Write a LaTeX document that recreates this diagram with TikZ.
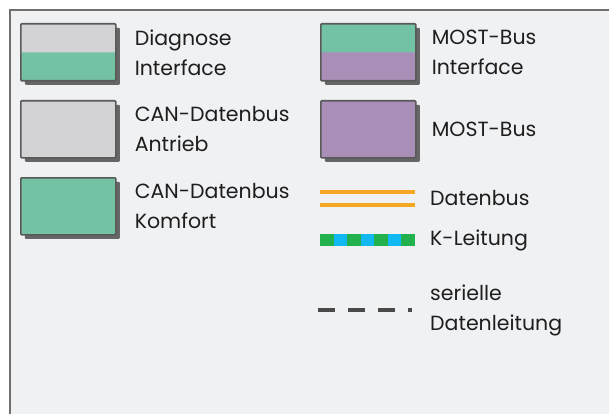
\documentclass[tikz,border=0pt]{standalone}
\usepackage{fontspec}
\setmainfont{Poppins}
\usepackage{xcolor}
\usetikzlibrary{positioning, shadows}

\definecolor{panelbg}{HTML}{F0F1F3}
\definecolor{framegrey}{HTML}{6F6F6F}
\definecolor{cangrey}{HTML}{D3D3D5}
\definecolor{cangreen}{HTML}{74C2A4}
\definecolor{mostlila}{HTML}{A98FB8}
\definecolor{busorange}{HTML}{F7A823}
\definecolor{kgreen}{HTML}{23B14D}
\definecolor{kcyan}{HTML}{12B8F0}
\definecolor{serialgrey}{HTML}{4A4A4A}
\definecolor{textgrey}{HTML}{1E1E1E}

\tikzset{
  legbox/.style={draw=black!65, line width=1.6pt, rounded corners=1pt,
    minimum width=95pt, minimum height=57pt, inner sep=0pt, anchor=north west,
    drop shadow={shadow xshift=4pt, shadow yshift=-4pt, fill=black!60, opacity=1}},
  lowerhalf/.style={path picture={\fill[#1] (path picture bounding box.west) rectangle (path picture bounding box.south east);}},
  legtext/.style={anchor=west, align=left, text=textgrey, inner sep=0pt,
    font=\fontsize{20.5}{30}\selectfont},
}

\begin{document}
\begin{tikzpicture}[x=1pt, y=-1pt]

% Panel with frame on top and left
\useasboundingbox (0,0) rectangle (609,414);
\fill[white] (0,0) rectangle (609,414);
\fill[panelbg] (10,10) rectangle (609,414);
\draw[framegrey, line width=2pt] (10,414) -- (10,10) -- (609,10);

% Left column: boxes
\node[legbox, fill=cangrey, lowerhalf=cangreen] (diag) at (20,23) {};
\node[legbox, fill=cangrey] (antrieb) at (20,100) {};
\node[legbox, fill=cangreen] (komfort) at (20,177) {};

\node[legtext, right=18pt of diag]    (diagtxt)    {Diagnose\\Interface};
\node[legtext, right=18pt of antrieb] (antriebtxt) {CAN-Datenbus\\Antrieb};
\node[legtext, right=18pt of komfort] (komforttxt) {CAN-Datenbus\\Komfort};

% Right column: boxes
\node[legbox, fill=cangreen, lowerhalf=mostlila] (mostif) at (320,23) {};
\node[legbox, fill=mostlila] (most) at (320,100) {};

\node[legtext, right=15pt of mostif] (mostiftxt) {MOST-Bus\\Interface};
\node[legtext, right=15pt of most]   (mosttxt)   {MOST-Bus};

% Right column: lines
\coordinate (busstart) at (320,198.5);
\coordinate (busend)   at (415,198.5);
\draw[draw=busorange, line width=3.5pt, double=panelbg, double distance=9.5pt] (busstart) -- (busend);
\node[legtext, right=15pt of busend] (bustxt) {Datenbus};

\coordinate (kstart) at (320,240);
\coordinate (kend)   at (415,240);
\draw[kgreen, line width=12pt] (kstart) -- (kend);
\foreach \i in {1,3,5}
  \draw[kcyan, line width=12pt] ([xshift=\i*13.57pt]kstart) -- ([xshift=\i*13.57pt+13.57pt]kstart);
\node[legtext, right=15pt of kend] (ktxt) {K-Leitung};

\coordinate (serstart) at (318,310);
\coordinate (serend)   at (412,310);
\draw[serialgrey, line width=4pt, dash pattern=on 17pt off 13pt] (serstart) -- (serend);
\node[legtext, right=18pt of serend] (sertxt) {serielle\\Datenleitung};

\end{tikzpicture}
\end{document}
